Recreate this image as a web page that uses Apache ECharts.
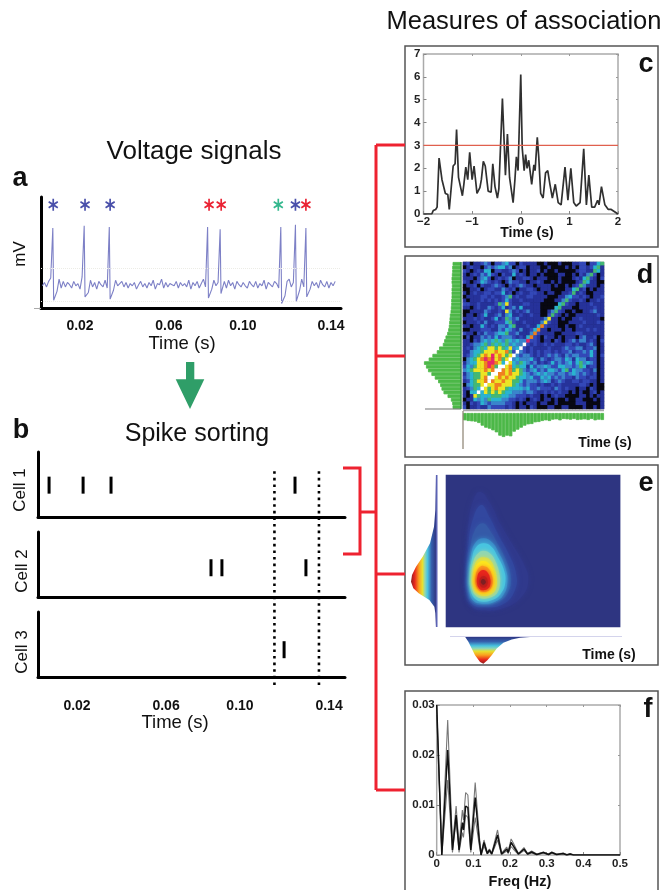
<!DOCTYPE html>
<html><head><meta charset="utf-8">
<style>html,body{margin:0;padding:0;background:#fff}#c{width:662px;height:890px;filter:blur(0.45px)}</style>
<script src="https://cdn.jsdelivr.net/npm/echarts@6/dist/echarts.min.js"></script>
</head><body><div id="c"></div>
<script>
// ---------- panel a: voltage trace ----------
const voltageStart = 0.002, voltageStep = 0.001;
const voltageValues = [
 2.0,2.3,1.9,2.4,2.7,7.2,0.7,1.5,2.6,1.8,
 2.4,1.9,2.3,2.1,1.8,2.4,2.0,2.2,1.7,2.8,
 7.4,1.0,1.4,2.5,1.9,2.3,1.7,2.4,2.1,1.9,
 2.5,1.8,7.3,0.8,1.6,2.5,2.0,2.2,2.4,1.9,
 2.3,1.8,2.2,2.0,2.3,1.7,2.1,2.4,1.9,2.2,
 1.8,2.3,2.0,2.5,1.7,2.2,2.1,2.6,1.8,2.3,
 1.9,2.2,2.1,2.0,2.4,1.8,2.3,2.0,2.2,1.9,
 2.5,1.7,2.3,2.0,2.4,1.8,2.2,2.6,1.9,7.3,
 0.9,1.7,2.5,2.0,2.3,7.1,1.3,2.4,1.8,2.5,
 2.0,2.3,1.7,2.4,2.1,1.9,2.3,2.0,1.8,2.4,
 2.1,1.9,2.4,1.8,2.2,2.0,2.5,1.7,2.3,2.1,
 1.9,2.4,2.2,1.8,7.3,0.4,1.1,2.4,2.6,1.9,
 2.3,7.5,0.6,1.6,2.6,1.9,7.2,1.0,1.7,2.4,
 2.0,2.3,1.8,2.5,2.1,1.9,2.4,1.8,2.3,2.0,2.4];
const starsBlue = [0.0072,0.0224,0.0344];
const starsRed = [0.0817,0.0875,0.1280];
const starsTeal = [0.1148];
const starsBlue2 = [0.1230];
const starLevel = 9.3;
const timeTickLabels = ['0.02','0.06','0.10','0.14'];
const timeTickAtA = [0.02,0.0625,0.0979,0.14];
const timeTickAtB = [0.02,0.0624,0.0976,0.14];
// ---------- panel b: spike rasters ----------
const cell1Spikes = [0.0067,0.0229,0.0362,0.1238];
const cell2Spikes = [0.0838,0.0890,0.1290];
const cell3Spikes = [0.1186];
const windowBounds = [0.114,0.1352];
// ---------- panel c: cross-correlogram ----------
const lagTimes = [-2,-1.83,-1.8,-1.75,-1.72,-1.68,-1.62,-1.55,-1.5,-1.47,-1.44,-1.39,-1.35,-1.32,-1.28,-1.23,-1.2,-1.17,-1.13,-1.09,-1.05,-1.0,-0.96,-0.9,-0.84,-0.81,-0.77,-0.73,-0.67,-0.61,-0.575,-0.53,-0.48,-0.45,-0.377,-0.315,-0.274,-0.23,-0.157,-0.12,-0.09,-0.055,0,0.03,0.07,0.1,0.13,0.165,0.225,0.27,0.295,0.34,0.37,0.41,0.46,0.51,0.555,0.6,0.65,0.71,0.77,0.83,0.91,0.97,1.03,1.09,1.14,1.22,1.295,1.35,1.37,1.4,1.46,1.52,1.58,1.61,1.66,1.73,1.8,1.86,1.93,2];
const lagCounts = [0,0,0.15,0.2,0.3,2.45,1.5,0.9,0.85,0.2,0.2,2.1,2.2,3.7,1.6,1.1,0.8,1.3,2.05,1.5,2.7,1.5,2.1,0.9,1.15,1.5,2.3,2.1,1.0,0.95,2.2,1.2,0.7,1.1,5.05,1.7,3.5,1.6,0.5,1.5,2.5,1.9,6.1,2.9,1.9,2.6,2.0,2.35,1.3,2.15,1.9,3.35,2.5,0.9,0.7,1.8,1.9,1.3,0.7,1.3,0.5,0.4,2.05,0.6,2.0,0.5,0.35,0.5,2.85,0.4,0.4,1.7,0.3,0.3,0.6,0.4,1.2,0.4,0.2,0.2,0.1,0];
const lagThreshold = 3;
// ---------- panel d: joint histogram (digits are colour levels; rows top to bottom) ----------
const jointRows = [
"1201123202 2342202111 1001000100 0112202245",
"0121102323 4423012201 1100100001 0102212451",
"2101214402 2112320101 1201001000 0012211541",
"1012132421 0211412101 1010000110 0102135201",
"1110234201 2123011221 0111000100 0121452102",
"2101243212 1013221101 1210010100 0012541100",
"0112021123 2102123211 0111101001 0125311101",
"0011201221 1321201122 1011100001 1451201011",
"1012112212 2412012112 2110110011 2512100111",
"0111122121 1235121122 1111000113 4221210112",
"1011121212 1242112111 1110001135 2112101121",
"2211211112 5362111221 1100000452 1101112111",
"1101211321 2412314111 1100004511 1001111211",
"0011113211 2163121231 1100135210 0100112311",
"0110124112 3134112112 1100252101 0011111121",
"1112121124 1253231111 1113611010 0112111110",
"0111213112 2245211211 1136211000 1111211121",
"1101142121 3324511121 1472111001 0012111111",
"0011122211 3243213112 4711011101 1011121211",
"2110213223 4452231113 7211110011 1122111111",
"0201132324 2333212147 2102110101 1102311201",
"1102134345 4354343382 2101102101 2313312102",
"1123345354 5453433921 2112121112 2121123101",
"1213454665 6546349212 1111211123 2233122301",
"1134456667 6675293212 1212212122 3122324201",
"1234567686 7656932332 1212323213 2332224202",
"0345678786 7569343334 2132123324 3143312201",
"1344667887 6496435432 3121242323 4245343201",
"2435667875 9967454414 2334322443 3235412201",
"3456667679 9767565323 4232443245 2433221301",
"1345566599 7767665432 3434332332 3432321201",
"2345567996 7676654434 2243423232 2132212201",
"1245667976 6766554233 3234312321 1221221101",
"0345569667 7666543232 2121121211 1112210100",
"1235496567 6654444342 2322213212 1101102100",
"1044946565 6544333233 2112121211 0101001201",
"1016544455 5443322212 1101012110 0001101011",
"0114343544 4332212101 2101101001 0011000101",
"1021243233 3322101011 1011001000 0011100001",
"2011211322 2212101102 1000110011 0000100101"];
const jointLevelColors = ['#080812','#26329a','#3348b8','#3a84cc','#2ab4d0','#44b874','#ece424','#f08020','#e82868','#ffffff'];
const jointLeftMargin = [25,26,26,27,28,28,27,28,28,28,29,29,30,31,33,34,35,36,38,41,46,50,54,65,72,85,96,110,104,98,88,78,68,62,58,52,40,30,26,25];
const jointBottomMargin = [22,24,25,26,30,38,44,47,52,58,68,72,68,70,56,50,44,38,34,33,28,27,24,22,24,20,19,22,18,19,20,18,21,20,19,21,18,22,20,21];
// ---------- panel e: fitted density contours (outer to inner) ----------
const densityContours = [
 [[240,95],[270,130],[300,190],[335,250],[370,310],[385,360],[365,410],[310,445],[250,452],[215,440],[198,400],[196,340],[200,270],[205,190],[218,125]],
 [[243,135],[270,175],[295,225],[325,280],[348,340],[345,390],[310,432],[250,442],[215,432],[202,395],[200,335],[205,260],[215,190]],
 [[248,190],[272,215],[295,255],[318,300],[332,350],[325,395],[295,425],[250,435],[215,425],[205,390],[204,335],[210,270],[224,212]],
 [[250,235],[275,246],[296,278],[315,320],[322,365],[310,405],[285,425],[250,431],[220,422],[208,392],[207,340],[213,285],[226,248]],
 [[250,250],[274,260],[293,290],[310,325],[316,365],[303,400],[282,418],[250,425],[225,416],[212,390],[209,345],[216,295],[228,262]],
 [[250,272],[272,282],[288,308],[298,340],[300,370],[292,398],[272,412],[250,416],[228,408],[216,385],[214,345],[220,305],[232,282]],
 [[250,292],[270,300],[283,325],[290,355],[288,385],[275,402],[250,408],[230,400],[219,380],[218,345],[224,315],[234,298]],
 [[250,303],[268,312],[280,335],[284,362],[280,385],[268,398],[250,402],[232,395],[222,376],[221,345],[227,322],[236,308]],
 [[250,318],[266,326],[275,345],[278,365],[272,385],[262,394],[250,396],[236,390],[227,372],[227,348],[232,330],[240,320]],
 [[250,330],[263,338],[270,355],[271,372],[265,385],[250,391],[238,386],[231,370],[232,350],[238,336]],
 [[250,348],[260,354],[263,368],[258,380],[250,383],[241,378],[238,366],[241,354]],
 [[250,357],[256,362],[257,368],[250,374],[244,370],[243,362]]];
const densityColors = ['#30398c','#32479f','#355aa8','#3a88c6','#48c4e0','#8fd6b4','#d6dc50','#fce81e','#fba01e','#e9271e','#c81e1a','#7d1f22'];
const densityBase = '#2e3581';
const marginY = [44,150,200,250,290,320,345,365,385,400,420,440,460,502];
const marginYDensity = [0,2,6,18,40,60,72,75,68,52,20,5,2,0];
const marginX = [195,205,215,225,240,250,262,275,290,310,335,360,400];
const marginXDensity = [0,15,35,55,75,80,70,55,35,18,8,3,0];
// ---------- panel f: spectrum with bounds ----------
const freqs = [0,0.014,0.03,0.043,0.053,0.061,0.07,0.073,0.079,0.085,0.093,0.105,0.116,0.121,0.129,0.138,0.144,0.15,0.166,0.177,0.191,0.195,0.203,0.209,0.223,0.238,0.248,0.259,0.273,0.291,0.305,0.314,0.327,0.345,0.355,0.364,0.373,0.4,0.5];
const powerMean = [0.03,0,0.021,0.001,0.008,0.001,0.0065,0.005,0.0098,0.0095,0.001,0.0115,0.003,0,0.0025,0.0003,0.001,0.0002,0.004,0.0002,0.0012,0.0005,0.0025,0.0018,0.0002,0.0012,0.0002,0.0006,0.0001,0.0005,0.0001,0.0005,0.0001,0.0003,0,0.0002,0,0,0];
const powerUpper = [0.03,0.0005,0.027,0.002,0.0098,0.002,0.009,0.007,0.0125,0.012,0.002,0.0145,0.004,0.0003,0.003,0.0005,0.0012,0.0003,0.005,0.0004,0.0016,0.0007,0.0032,0.0024,0.0003,0.0015,0.0003,0.0008,0.0002,0.0006,0.0002,0.0006,0.0002,0.0004,0.0001,0.0003,0,0,0];
const powerLower = [0.028,0,0.015,0.0005,0.007,0.0005,0.0045,0.0035,0.008,0.0075,0.0005,0.0075,0.002,0,0.0018,0.0002,0.0007,0.0001,0.003,0.0001,0.0008,0.0003,0.0017,0.0012,0.0001,0.0009,0.0001,0.0004,0,0.0004,0,0.0004,0,0.0002,0,0.0001,0,0,0];

// ---------- text ----------
const FONT = '"Liberation Sans", Arial, sans-serif';
const headings = [
 {t:'Measures of association',x:524,y:22,s:25.5},
 {t:'Voltage signals',x:194,y:152,s:26},
 {t:'Spike sorting',x:197,y:434,s:25},
 {t:'Time (s)',x:182,y:344,s:18.5},
 {t:'Time (s)',x:175,y:723,s:18.5}];
const panelLetters = [
 {t:'a',x:20,y:179},{t:'b',x:21,y:431},{t:'c',x:646,y:65},{t:'d',x:645,y:276},{t:'e',x:646,y:484},{t:'f',x:648,y:710}];
const axisTitles = [
 {t:'Time (s)',x:527,y:233,s:14},{t:'Time (s)',x:605,y:443,s:14},{t:'Time (s)',x:609,y:655,s:14},{t:'Freq (Hz)',x:520,y:882,s:14.5}];
const rotated = [{t:'mV',x:20,y:254,s:17},{t:'Cell 1',x:20,y:490,s:17},{t:'Cell 2',x:22,y:571,s:17},{t:'Cell 3',x:22,y:652,s:17}];

// ---------- assembling ----------
const grids=[],xAxes=[],yAxes=[],series=[];
const off={show:false};
const noLine={show:false,onZero:false};
function panel(box,x,y){
  const g=grids.length; grids.push(Object.assign({containLabel:false},box));
  const xi=xAxes.length, yi=yAxes.length;
  xAxes.push(Object.assign({gridIndex:g,type:'value',axisLine:noLine,axisTick:off,splitLine:off,axisLabel:off},x));
  yAxes.push(Object.assign({gridIndex:g,type:'value',axisLine:noLine,axisTick:off,splitLine:off,axisLabel:off},y));
  return {g,xi,yi};
}
function mirror(p,xCfg,yCfg){
  xAxes.push(Object.assign({gridIndex:p.g,type:'value',position:'top',axisLine:noLine,splitLine:off,axisLabel:off,axisTick:{inside:true,length:2,lineStyle:{color:'#999'}}},xCfg));
  yAxes.push(Object.assign({gridIndex:p.g,type:'value',position:'right',axisLine:noLine,splitLine:off,axisLabel:off,axisTick:{inside:true,length:2,lineStyle:{color:'#999'}}},yCfg));
}
function poly(p,pts,fill,blur,smooth){
  series.push({type:'custom',xAxisIndex:p.xi,yAxisIndex:p.yi,silent:true,clip:false,data:[0],animation:false,
    renderItem:(prm,api)=>({type:'polygon',shape:{points:pts.map(v=>api.coord(v)),smooth:smooth||0},
      style:{fill:fill,shadowBlur:blur||0,shadowColor:typeof fill==='string'?fill:'transparent'}})});
}
const blackAxis={show:true,onZero:false,lineStyle:{color:'#000',width:3}};
const asterisk='path://M8.4 0h3.2v7.2l6.3-3.6 1.6 2.8L13.2 10l6.3 3.6-1.6 2.8-6.3-3.6V20H8.4v-7.2l-6.3 3.6-1.6-2.8L6.8 10 .5 6.4l1.6-2.8 6.3 3.6z';

// a: each sampled spike is a very narrow excursion from the sample before it
const traceData=[];
voltageValues.forEach((v,i)=>{
  const t=voltageStart+i*voltageStep;
  if(i>0 && voltageValues[i-1]>5) return;
  if(v>5){
    traceData.push([t-0.00025,voltageValues[i-1]]);
    traceData.push([t,v]);
    traceData.push([t+0.0004,voltageValues[i+1]]);
  } else traceData.push([t,v]);
});
const labelA=(ats,m)=>({show:true,customValues:ats,margin:m,color:'#111',fontFamily:FONT,fontWeight:'bold',fontSize:14,
  formatter:v=>timeTickLabels[ats.indexOf(v)]});
const pa=panel({left:41,top:197,width:300,height:111},
  {min:0.00135,max:0.14478,axisLine:blackAxis,axisLabel:labelA(timeTickAtA,11)},
  {min:0,max:10,axisLine:blackAxis});
series.push({type:'line',xAxisIndex:pa.xi,yAxisIndex:pa.yi,showSymbol:false,silent:true,clip:false,
  data:traceData,lineStyle:{color:'#7d80c6',width:1.1},
  markLine:{silent:true,symbol:'none',label:off,data:[
    {yAxis:3.6,lineStyle:{color:'#ecece6',type:'dotted',width:1}},
    {yAxis:0.65,lineStyle:{color:'#ecece6',type:'dotted',width:1}}]}});
[[starsBlue,'#4a50aa'],[starsBlue2,'#4a50aa'],[starsRed,'#ea2334'],[starsTeal,'#35b88e']].forEach(([d,col])=>{
  series.push({type:'scatter',xAxisIndex:pa.xi,yAxisIndex:pa.yi,silent:true,symbol:asterisk,symbolSize:[10,12],
    data:d.map(t=>[t,starLevel]),itemStyle:{color:col,opacity:1}});
});

// b
const bTop=[452,532,612];
const bLevels=[0.49,0.45,0.42];
[cell1Spikes,cell2Spikes,cell3Spikes].forEach((sp,i)=>{
  const p=panel({left:38,top:bTop[i],width:307,height:65},
    Object.assign({min:0.00143,max:0.1476,axisLine:blackAxis},i===2?{axisLabel:labelA(timeTickAtB,22)}:{}),
    {min:0,max:1,axisLine:blackAxis});
  series.push({type:'scatter',xAxisIndex:p.xi,yAxisIndex:p.yi,silent:true,symbol:'rect',symbolSize:[3,17],
    data:sp.map(t=>[t,bLevels[i]]),itemStyle:{color:'#000',opacity:1}});
});
const pw=panel({left:38,top:470,width:307,height:215},{min:0.00143,max:0.1476},{min:0,max:1});
windowBounds.forEach(t=>series.push({type:'line',xAxisIndex:pw.xi,yAxisIndex:pw.yi,showSymbol:false,silent:true,z:5,
  data:[[t,0],[t,1]],lineStyle:{color:'#000',width:2.6,type:[2.6,4]}}));

// c
const boldTick={show:true,color:'#222',fontFamily:FONT,fontWeight:'bold',fontSize:11.5};
const inTick={show:true,inside:true,length:3,lineStyle:{color:'#888'}};
const pc=panel({left:423.5,top:54,width:194.5,height:160,show:true,borderColor:'#aaa',borderWidth:1.5,backgroundColor:'#fff'},
  {min:-2,max:2,interval:1,axisTick:inTick,axisLabel:Object.assign({},boldTick,{margin:2,formatter:v=>v<0?'\u2212'+(-v):''+v})},
  {min:0,max:7,interval:1,axisTick:inTick,axisLabel:Object.assign({},boldTick,{margin:3})});
mirror(pc,{min:-2,max:2,interval:1},{min:0,max:7,interval:1});
series.push({type:'line',xAxisIndex:pc.xi,yAxisIndex:pc.yi,showSymbol:false,silent:true,
  data:lagTimes.map((t,i)=>[t,lagCounts[i]]),lineStyle:{color:'#303030',width:1.7}});
series.push({type:'line',xAxisIndex:pc.xi,yAxisIndex:pc.yi,showSymbol:false,silent:true,z:6,
  data:[[-2,lagThreshold],[2,lagThreshold]],itemStyle:{color:'#e0604e'},lineStyle:{color:'#e0604e',width:1.2}});

// d
const bins=jointRows.map((_,i)=>i);
const pd=panel({left:463,top:262,width:141,height:147,show:true,borderColor:'#b5b5b5',borderWidth:1,backgroundColor:'#080812'},
  {type:'category',data:bins},{type:'category',data:bins,inverse:true});
const jointCells=[];
jointRows.forEach((r,ri)=>r.replace(/ /g,'').split('').forEach((c,ci)=>jointCells.push([ci,ri,+c])));
const heatD=series.length;
series.push({type:'heatmap',xAxisIndex:pd.xi,yAxisIndex:pd.yi,silent:true,data:jointCells,progressive:0});
const greenBar={color:'#4cb848',borderColor:'#4cb848',borderWidth:0.8};
const pdl=panel({left:424,top:262,width:37,height:147},{min:0,max:110,inverse:true},{type:'category',data:bins,inverse:true});
series.push({type:'bar',xAxisIndex:pdl.xi,yAxisIndex:pdl.yi,silent:true,barWidth:'100%',data:jointLeftMargin,itemStyle:greenBar});
const pdb=panel({left:463,top:413,width:141,height:24},{type:'category',data:bins},{min:0,max:72,inverse:true});
series.push({type:'bar',xAxisIndex:pdb.xi,yAxisIndex:pdb.yi,silent:true,barWidth:'100%',data:jointBottomMargin,itemStyle:greenBar});

// e
const pe=panel({left:445.7,top:474.7,width:174.7,height:152.6,show:true,borderWidth:0,backgroundColor:densityBase},
  {min:137,max:661},{min:44,max:502,inverse:true});
densityContours.forEach((c,i)=>poly(pe,c,densityColors[i],5,0.45));
const bandStops=[[0,'#2e3581'],[0.18,'#3560ad'],[0.34,'#48c4e0'],[0.44,'#8fd6b4'],[0.54,'#e6e030'],[0.68,'#fba01e'],[0.85,'#e9271e'],[1,'#8d1f20']];
const grad=(a,b,c,d)=>new echarts.graphic.LinearGradient(a,b,c,d,bandStops.map(s=>({offset:s[0],color:s[1]})));
const pel=panel({left:411,top:474.7,width:25,height:152.6},{min:0,max:75,inverse:true},{min:44,max:502,inverse:true});
poly(pel,marginY.map((y,i)=>[marginYDensity[i],y]),grad(1,0,0,0));
const peb=panel({left:445.7,top:636.7,width:174.7,height:27},{min:137,max:661},{min:0,max:80,inverse:true});
poly(peb,marginX.map((x,i)=>[x,marginXDensity[i]]),grad(0,0,0,1));

// f
const pf=panel({left:436.7,top:705,width:183.3,height:150,show:true,borderColor:'#aaa',borderWidth:1.5,backgroundColor:'#fff'},
  {min:0,max:0.5,interval:0.1,axisTick:inTick,axisLabel:Object.assign({},boldTick,{margin:3,formatter:v=>v===0?'0':v.toFixed(1)})},
  {min:0,max:0.03,interval:0.01,axisTick:inTick,axisLabel:Object.assign({},boldTick,{margin:2,formatter:v=>v===0?'0':v.toFixed(2)})});
mirror(pf,{min:0,max:0.5,interval:0.1},{min:0,max:0.03,interval:0.01});
[[powerUpper,'#777',1.1],[powerLower,'#777',1.1],[powerMean,'#111',1.5]].forEach(([d,col,w])=>series.push({type:'line',xAxisIndex:pf.xi,yAxisIndex:pf.yi,showSymbol:false,silent:true,
  data:freqs.map((f,i)=>[f,d[i]]),lineStyle:{color:col,width:w}}));

// decoration
const graphics=[];
const frame=(x,y,w,h)=>graphics.push({type:'rect',silent:true,z:-1,shape:{x,y,width:w,height:h},style:{fill:'#fff',stroke:'#555',lineWidth:1.5}});
frame(405,46,253,201);frame(405,256,253,201);frame(405,465,253,200);frame(405,691,253,210);
const red=(pts)=>graphics.push({type:'polyline',silent:true,z:3,shape:{points:pts},style:{stroke:'#ee2230',lineWidth:3,fill:'none'}});
red([[376,145],[376,790]]);
[145,356,574,790].forEach(y=>red([[376,y],[405,y]]));
red([[343,468],[360,468],[360,554],[343,554]]);
red([[360,512],[376,512]]);
const gray=(pts,col,w)=>graphics.push({type:'polyline',silent:true,z:3,shape:{points:pts},style:{stroke:col,lineWidth:w||1.2,fill:'none'}});
gray([[425,409],[461,409]],'#777');
gray([[461,262],[461,409]],'#2f7f42',1.3);
gray([[463,410.5],[604,410.5]],'#a8a8a8',1.5);
gray([[463,411],[463,449]],'#8a8070',1.2);
gray([[436.7,475],[436.7,627]],'#5b62b4',1.6);
gray([[450,636.5],[622,636.5]],'#d4d4ec',1);
gray([[34,308.5],[41,308.5]],'#aaa',1);
graphics.push({type:'polygon',silent:true,z:3,shape:{points:[[186,362],[194.3,362],[194.3,379.3],[204.3,379.3],[190,409],[175.7,379.3],[186,379.3]]},style:{fill:'#2f9e68'}});
const txt=(o)=>graphics.push({type:'text',silent:true,z:6,x:o.x,y:o.y,rotation:o.rot||0,
  style:{text:o.t,textAlign:'center',textVerticalAlign:'middle',fill:'#111',fontFamily:FONT,fontSize:o.s,fontWeight:o.w||'normal'}});
headings.forEach(h=>txt(h));
panelLetters.forEach(l=>txt(Object.assign({s:27,w:'bold'},l)));
axisTitles.forEach(a=>txt(Object.assign({w:'bold'},a)));
rotated.forEach(r=>txt(Object.assign({rot:Math.PI/2},r)));

const chart=echarts.init(document.getElementById('c'),null,{renderer:'canvas'});
chart.setOption({animation:false,backgroundColor:'#fff',grid:grids,xAxis:xAxes,yAxis:yAxes,series,graphic:graphics,
  visualMap:[{type:'piecewise',show:false,seriesIndex:heatD,dimension:2,
    pieces:jointLevelColors.map((color,value)=>({value,color}))}]});
</script></body></html>
